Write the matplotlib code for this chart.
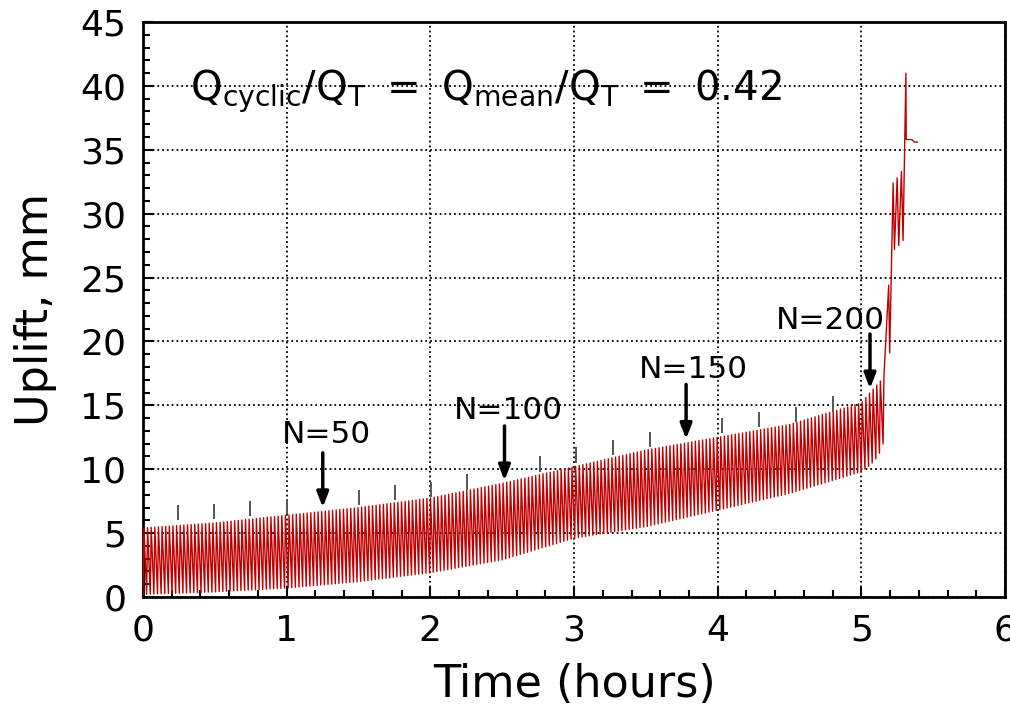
import numpy as np
import matplotlib
matplotlib.use("Agg")
import matplotlib.pyplot as plt
from matplotlib.ticker import MultipleLocator

# envelope of the cyclic uplift (hours, mm)
env_t = [0.0, 0.5, 1.0, 1.5, 2.0, 2.5, 3.0, 3.5, 4.0, 4.5, 5.0, 5.06, 5.1, 5.14, 5.17]
env_upper = [5.4, 5.8, 6.4, 7.0, 7.75, 8.9, 10.2, 11.5, 12.5, 13.5, 15.2, 16.0, 16.5, 17.0, 17.6]
env_lower = [0.2, 0.4, 0.7, 1.2, 1.9, 2.9, 4.6, 5.5, 6.8, 8.1, 9.8, 10.3, 10.8, 11.5, 12.8]
n_cycles = 205
cycle_period = 0.02525

# failure stage after the last regular cycle
fail_t = [5.19, 5.197, 5.221, 5.23, 5.249, 5.26, 5.279, 5.29, 5.31, 5.312, 5.35, 5.37, 5.39]
fail_v = [24.4, 19.1, 32.4, 27.2, 32.8, 27.5, 33.3, 27.9, 41.0, 35.8, 35.8, 35.6, 35.6]

# short marks every 10 cycles
mark_t = [0.241, 0.494, 0.745, 1.0, 1.504, 1.755, 2.003, 2.258, 2.765, 3.015,
          3.27, 3.53, 4.03, 4.29, 4.545, 4.80]
mark_top = [7.2, 7.3, 7.5, 7.7, 8.4, 8.8, 9.0, 9.6, 11.0, 11.7,
            12.3, 12.9, 14.0, 14.5, 14.9, 15.7]

# cycle count labels
n_labels = ["N=50", "N=100", "N=150", "N=200"]
arrow_t = [1.251, 2.516, 3.78, 5.06]
arrow_tip = [6.8, 8.9, 12.15, 16.1]
arrow_tail = [11.5, 13.6, 16.85, 20.8]
label_t = [1.277, 2.545, 3.83, 4.785]
label_v = [12.7, 14.6, 17.8, 21.6]

# build the load cycles from the envelope
t_pts, v_pts = [], []
for k in range(n_cycles):
    t0 = k * cycle_period
    tp = t0 + 0.25 * cycle_period
    t_pts += [t0, tp]
    v_pts += [np.interp(t0, env_t, env_lower), np.interp(tp, env_t, env_upper)]
t_pts += fail_t
v_pts += fail_v

fig = plt.figure(figsize=(10.1, 7.07), dpi=100)
ax = fig.add_axes([0.1416, 0.1556, 0.8535, 0.8133])

ax.plot(t_pts, v_pts, color="#c00000", lw=1.0, zorder=3)
ax.vlines(mark_t, np.array(mark_top) - 1.2, mark_top, color="#555555", lw=1.4, zorder=3)

for lab, at, tip, tail, lt, lv in zip(n_labels, arrow_t, arrow_tip, arrow_tail, label_t, label_v):
    ax.annotate("", xy=(at, tip), xytext=(at, tail),
                arrowprops=dict(arrowstyle="-|>,head_length=0.9,head_width=0.35",
                                color="black", lw=2.5), zorder=4)
    ax.text(lt, lv, lab, fontsize=22.5, ha="center", va="center", zorder=4)

ax.text(0.33, 38.9,
        r"$\mathregular{Q_{cyclic}/Q_T\ =\ Q_{mean}/Q_T\ =\ 0.42}$",
        fontsize=29, ha="left", va="baseline")

ax.set_xlim(0, 6)
ax.set_ylim(0, 45)
ax.xaxis.set_major_locator(MultipleLocator(1))
ax.xaxis.set_minor_locator(MultipleLocator(0.2))
ax.yaxis.set_major_locator(MultipleLocator(5))
ax.yaxis.set_minor_locator(MultipleLocator(1))
ax.grid(True, which="major", ls=":", color="black", lw=1.3)
ax.set_axisbelow(True)
ax.tick_params(which="both", direction="in", labelsize=26, width=1.5)
ax.tick_params(which="major", length=8)
ax.tick_params(which="minor", length=5)
ax.tick_params(axis="x", pad=12)
ax.tick_params(axis="y", pad=12)
for s in ax.spines.values():
    s.set_linewidth(2)

ax.set_xlabel("Time (hours)", fontsize=32, labelpad=11)
ax.set_ylabel("Uplift, mm", fontsize=32, labelpad=17)

fig.savefig("out.png", dpi=100)
